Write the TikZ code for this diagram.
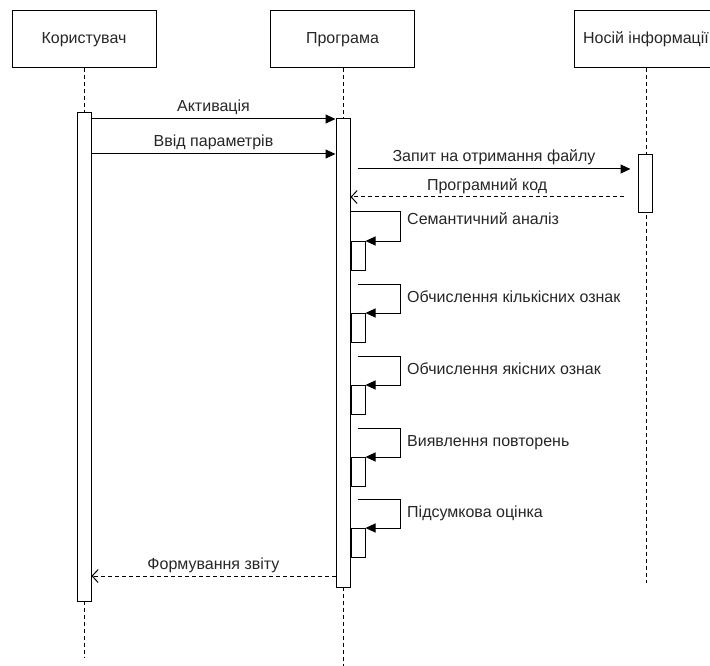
\documentclass[tikz,border=0pt]{standalone}
\usepackage{fontspec}
\setmainfont{Liberation Sans}
\usepackage{tikz}
\usetikzlibrary{arrows.meta}

\tikzset{
    actor/.style={draw, line width=1pt, minimum width=144pt, minimum height=57pt, inner sep=0pt, text=black!85, font=\fontsize{16}{19}\selectfont},
    lifeline/.style={line width=1pt, dash pattern=on 4pt off 3pt},
    act/.style={draw, fill=white, line width=1pt, minimum width=14pt, inner sep=0pt, anchor=north},
    call/.style={line width=1pt, -{Triangle[length=10pt,width=9pt]}},
    reply/.style={line width=1pt, dash pattern=on 4pt off 3pt, -{Straight Barb[length=6pt,width=13pt]}},
    msglbl/.style={midway, anchor=base, yshift=7pt, inner sep=0pt, text=black!85, font=\fontsize{16}{19}\selectfont},
    selflbl/.style={anchor=base west, inner sep=0pt, text=black!85, font=\fontsize{16}{19}\selectfont}
}

\begin{document}
\begin{tikzpicture}[x=1pt,y=-1pt]
                \clip (0,0) rectangle (710,666);
                \node [actor] (user) at (84,39.5) {Користувач};
                \node [actor] (prog) at (342.5,39.5) {Програма};
                \node [actor] (media) at (646,39.5) {Носій інформації};
                \coordinate (userEnd) at (84,658);
                \coordinate (progEnd) at (343,666);
                \coordinate (mediaEnd) at (646,583);
                \draw [lifeline] (user.south) -- (userEnd);
                \draw [lifeline] (prog.south -| progEnd) -- (progEnd);
                \draw [lifeline] (media.south) -- (mediaEnd);
                \node [act, minimum height=489pt] (userAct) at (84,112) {};
                \node [act, minimum height=469pt] (progAct) at (343,118) {};
                \node [act, minimum height=58pt] (mediaAct) at (645,154) {};
                % messages
                \coordinate (m1) at (0,119);
                \coordinate (m2) at (0,154);
                \coordinate (m3) at (0,169);
                \coordinate (m4) at (0,197);
                \coordinate (m6) at (0,576);
                \draw [call] (userAct.east |- m1) -- (progAct.west |- m1) node [msglbl] (l1) {Активація};
                \draw [call] (userAct.east |- m2) -- (progAct.west |- m2) node [msglbl] (l2) {Ввід параметрів};
                \draw [call, shorten <=7pt, shorten >=7pt] (progAct.east |- m3) -- (mediaAct.west |- m3) node [msglbl] (l3) {Запит на отримання файлу};
                \draw [reply, shorten <=14pt] (mediaAct.west |- m4) -- (progAct.east |- m4) node [msglbl, pos=0.524] (l4) {Програмний код};
                \draw [reply] (progAct.west |- m6) -- (userAct.east |- m6) node [msglbl] (l6) {Формування звіту};
                % self calls
                \coordinate (s1) at (0,212);
                \coordinate (s2) at (0,284);
                \coordinate (s3) at (0,356);
                \coordinate (s4) at (0,428);
                \coordinate (s5) at (0,499);
                \node [act, anchor=north west, minimum height=29pt] (sub1) at ([yshift=-29pt]progAct.east |- s1) {};
                \node [act, anchor=north west, minimum height=29pt] (sub2) at ([yshift=-29pt]progAct.east |- s2) {};
                \node [act, anchor=north west, minimum height=29pt] (sub3) at ([yshift=-29pt]progAct.east |- s3) {};
                \node [act, anchor=north west, minimum height=29pt] (sub4) at ([yshift=-29pt]progAct.east |- s4) {};
                \node [act, anchor=north west, minimum height=29pt] (sub5) at ([yshift=-29pt]progAct.east |- s5) {};
                \draw [call] (progAct.east |- s1) -- ++(50,0) |- (sub1.north east);
                \draw [call, shorten <=7pt] (progAct.east |- s2) -- ++(50,0) |- (sub2.north east);
                \draw [call, shorten <=7pt] (progAct.east |- s3) -- ++(50,0) |- (sub3.north east);
                \draw [call, shorten <=7pt] (progAct.east |- s4) -- ++(50,0) |- (sub4.north east);
                \draw [call, shorten <=7pt] (progAct.east |- s5) -- ++(50,0) |- (sub5.north east);
                \node [selflbl] (t1) at (407,224) {Семантичний аналіз};
                \node [selflbl] (t2) at (407,302) {Обчислення кількісних ознак};
                \node [selflbl] (t3) at (407,374) {Обчислення якісних ознак};
                \node [selflbl] (t4) at (407,446) {Виявлення повторень};
                \node [selflbl] (t5) at (407,517) {Підсумкова оцінка};
            \end{tikzpicture}
\end{document}
